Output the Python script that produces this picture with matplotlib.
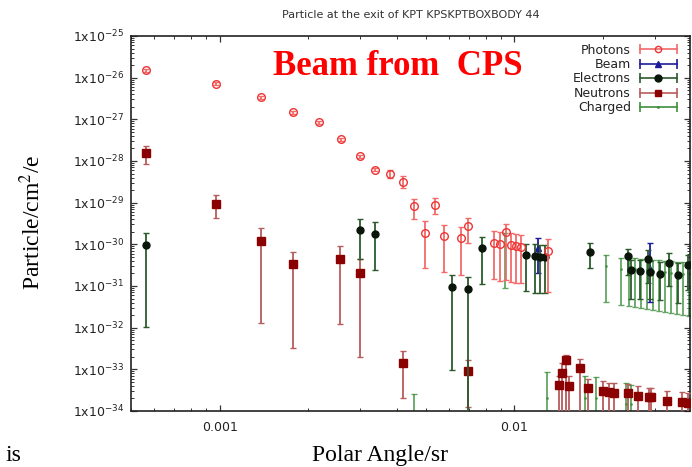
import numpy as np
import matplotlib
matplotlib.use("Agg")
import matplotlib.pyplot as plt
from matplotlib.lines import Line2D
from matplotlib.legend_handler import HandlerLine2D
from matplotlib.ticker import FixedLocator, LogLocator, NullFormatter

# Photons
pho_x = [5.63e-4, 9.71e-4, 1.385e-3, 1.77e-3, 2.18e-3, 2.58e-3, 2.99e-3, 3.38e-3,
         3.78e-3, 4.18e-3, 4.57e-3, 4.98e-3, 5.39e-3, 5.78e-3, 6.57e-3, 6.99e-3,
         8.52e-3, 8.93e-3, 9.34e-3, 9.74e-3, 1.016e-2, 1.054e-2, 1.30e-2]
pho_y = [1.50e-26, 7.2e-27, 3.4e-27, 1.5e-27, 8.4e-28, 3.3e-28, 1.30e-28, 6.2e-29,
         4.9e-29, 3.1e-29, 8.1e-30, 1.9e-30, 8.65e-30, 1.56e-30, 1.40e-30, 2.75e-30,
         1.09e-30, 1.02e-30, 2.01e-30, 9.6e-31, 9.1e-31, 8.8e-31, 7.0e-31]
pho_lo = [1.40e-26, 6.7e-27, 3.15e-27, 1.38e-27, 7.7e-28, 3.0e-28, 1.18e-28, 5.6e-29,
          3.9e-29, 2.2e-29, 4.0e-30, 2.66e-31, 5.2e-30, 2.13e-31, 1.84e-31, 1.1e-30,
          1.45e-31, 1.32e-31, 1.4e-31, 1.25e-31, 1.18e-31, 1.18e-31, 7.3e-32]
pho_hi = [1.60e-26, 7.7e-27, 3.65e-27, 1.62e-27, 9.1e-28, 3.6e-28, 1.42e-28, 6.8e-29,
          6.1e-29, 4.25e-29, 1.24e-29, 3.7e-30, 1.32e-29, 2.96e-30, 2.6e-30, 4.3e-30,
          2.09e-30, 1.98e-30, 3.1e-30, 1.87e-30, 1.77e-30, 1.7e-30, 1.34e-30]

# Beam
beam_x = [1.20e-2, 2.885e-2]
beam_y = [8.0e-31, 2.5e-31]
beam_lo = [2.0e-31, 4.2e-32]
beam_hi = [1.4e-30, 1.08e-30]

# Electrons
ele_x = [5.63e-4, 2.99e-3, 3.38e-3, 6.17e-3, 6.99e-3, 7.76e-3, 1.099e-2, 1.172e-2,
         1.219e-2, 1.27e-2, 1.807e-2, 2.434e-2, 2.496e-2, 2.68e-2, 2.85e-2, 2.90e-2,
         3.13e-2, 3.34e-2, 3.61e-2, 3.90e-2]
ele_y = [9.5e-31, 2.17e-30, 1.77e-30, 9.6e-32, 8.3e-32, 8.0e-31, 5.5e-31, 5.2e-31,
         5.05e-31, 5.05e-31, 6.67e-31, 5.25e-31, 2.42e-31, 2.34e-31, 4.37e-31, 2.14e-31,
         1.95e-31, 3.6e-31, 1.84e-31, 3.2e-31]
ele_lo = [1.02e-32, 4.5e-31, 2.47e-31, 9.7e-34, 1e-36, 1.1e-31, 7.6e-32, 6.7e-32,
          6.7e-32, 6.7e-32, 2.75e-31, 1.84e-31, 5.0e-32, 5.0e-32, 1.2e-31, 5.0e-32,
          4.5e-32, 1.0e-31, 4.0e-32, 8.0e-32]
ele_hi = [1.9e-30, 4.06e-30, 3.38e-30, 1.87e-31, 1.67e-31, 1.53e-30, 1.02e-30, 1.02e-30,
          9.6e-31, 9.6e-31, 1.06e-30, 7.76e-31, 4.3e-31, 4.2e-31, 7.5e-31, 4.0e-31,
          3.7e-31, 6.2e-31, 3.5e-31, 5.5e-31]

# Neutrons
neu_x = [5.63e-4, 9.71e-4, 1.385e-3, 1.767e-3, 2.57e-3, 2.99e-3, 4.18e-3, 6.99e-3,
         1.415e-2, 1.452e-2, 1.495e-2, 1.534e-2, 1.668e-2, 1.785e-2, 2.0e-2, 2.098e-2,
         2.188e-2, 2.434e-2, 2.633e-2, 2.856e-2, 2.91e-2, 3.30e-2, 3.72e-2, 3.90e-2]
neu_y = [1.58e-28, 9.4e-30, 1.22e-30, 3.3e-31, 4.5e-31, 2.02e-31, 1.45e-33, 9.1e-34,
         4.2e-34, 8.3e-34, 1.68e-33, 4.06e-34, 1.1e-33, 3.5e-34, 3.08e-34, 2.86e-34,
         2.76e-34, 2.66e-34, 2.29e-34, 2.13e-34, 2.13e-34, 1.77e-34, 1.68e-34, 1.58e-34]
neu_lo = [8.6e-29, 4.2e-30, 1.3e-32, 3.3e-33, 1.23e-32, 1.98e-33, 2.0e-34, 1.27e-34,
          1e-36, 1e-36, 1e-36, 1e-36, 1e-36, 1e-36, 1e-36, 1e-36,
          1e-36, 1e-36, 1e-36, 1e-36, 1e-36, 1e-36, 1e-36, 1e-36]
neu_hi = [2.33e-28, 1.53e-29, 2.47e-30, 6.5e-31, 9.0e-31, 4.38e-31, 2.8e-33, 1.68e-33,
          7.0e-34, 1.4e-33, 2.2e-33, 6.8e-34, 1.8e-33, 5.8e-34, 5.2e-34, 4.8e-34,
          4.6e-34, 4.5e-34, 3.9e-34, 3.6e-34, 3.6e-34, 3.0e-34, 2.9e-34, 2.7e-34]

# Charged
chg_x = [4.58e-3, 9.27e-3, 1.295e-2, 1.734e-2, 1.9e-2, 2.4e-2, 2.5e-2,
         2.044e-2, 2.31e-2, 2.45e-2, 2.56e-2, 2.69e-2, 2.82e-2, 2.95e-2, 3.10e-2,
         3.24e-2, 3.40e-2, 3.56e-2, 3.73e-2, 3.92e-2]
chg_y = [5e-35, 9.8e-31, 2e-34, 2e-34, 2e-34, 1.5e-34, 1.5e-34,
         2.98e-31, 2.57e-31, 2.52e-31, 2.51e-31, 2.37e-31, 2.37e-31, 2.24e-31, 2.23e-31,
         2.11e-31, 2.10e-31, 1.99e-31, 1.99e-31, 1.98e-31]
chg_lo = [1e-36, 8.8e-32, 1e-36, 1e-36, 1e-36, 1e-36, 1e-36,
          4.07e-32, 3.5e-32, 3.3e-32, 3.14e-32, 2.97e-32, 2.81e-32, 2.66e-32, 2.51e-32,
          2.38e-32, 2.25e-32, 2.13e-32, 2.02e-32, 1.91e-32]
chg_hi = [2.57e-34, 1.87e-30, 8.8e-34, 6.9e-34, 6.7e-34, 4.7e-34, 4.2e-34,
          5.55e-31, 4.79e-31, 4.7e-31, 4.7e-31, 4.45e-31, 4.45e-31, 4.21e-31, 4.21e-31,
          3.98e-31, 3.98e-31, 3.77e-31, 3.77e-31, 3.77e-31]

y_ticks = [10.0 ** -k for k in range(34, 24, -1)]
y_labels = [r'1x10$^{-%d}$' % k for k in range(34, 24, -1)]
x_ticks = [1e-3, 1e-2]
x_labels = ['0.001', '0.01']

fig = plt.figure(figsize=(6.92, 4.67), dpi=100)
ax = fig.add_axes([131 / 692, 1 - 411 / 467, 559 / 692, 375 / 467])


def draw(x, y, lo, hi, fmt, ms, mfc, mec, ecol, z, alpha=1.0, lw=1.3):
    x = np.array(x)
    y = np.array(y)
    err = [y - np.array(lo), np.array(hi) - y]
    ax.errorbar(x, y, yerr=err, fmt=fmt, ms=ms, mfc=mfc, mec=mec, mew=1.0,
                ecolor=ecol, elinewidth=lw, capsize=2.5, capthick=lw,
                alpha=alpha, zorder=z)


pho_c, pho_e = '#ee3434', '#f26a6a'
beam_c = '#1c1c9a'
ele_c, ele_e = '#0b160b', '#2c5a2c'
neu_c, neu_e = '#8b0000', '#b85c5c'
chg_c = '#3d8f3d'

draw(chg_x, chg_y, chg_lo, chg_hi, '.', 2, chg_c, chg_c, chg_c, 2, alpha=0.8)
draw(neu_x, neu_y, neu_lo, neu_hi, 's', 5.5, neu_c, neu_c, neu_e, 3)
draw(beam_x, beam_y, beam_lo, beam_hi, '^', 4.5, beam_c, beam_c, beam_c, 4)
draw(ele_x, ele_y, ele_lo, ele_hi, 'o', 5, ele_c, ele_c, ele_e, 5)
draw(pho_x, pho_y, pho_lo, pho_hi, 'o', 5.5, 'none', pho_c, pho_e, 6)

ax.set_xscale('log')
ax.set_yscale('log')
ax.set_xlim(5e-4, 0.0395)
ax.set_ylim(1e-34, 1e-25)

ax.xaxis.set_major_locator(FixedLocator(x_ticks))
ax.set_xticklabels(x_labels)
ax.xaxis.set_minor_locator(LogLocator(base=10, subs=np.arange(2, 10), numticks=50))
ax.xaxis.set_minor_formatter(NullFormatter())
ax.yaxis.set_major_locator(FixedLocator(y_ticks))
ax.set_yticklabels(y_labels)
ax.yaxis.set_minor_locator(LogLocator(base=10, subs=np.arange(2, 10), numticks=50))
ax.yaxis.set_minor_formatter(NullFormatter())

ax.tick_params(which='both', direction='in', top=True, right=True, color='#333333',
               labelcolor='#222222', labelsize=9)
ax.tick_params(which='major', length=4, width=0.9)
ax.tick_params(which='minor', length=2, width=0.7)
ax.tick_params(axis='y', pad=5)
ax.tick_params(axis='x', pad=7)
for s in ax.spines.values():
    s.set_linewidth(1.2)
    s.set_color('#222222')

ax.set_title('Particle at the exit of KPT KPSKPTBOXBODY 44', fontsize=8,
             color='#333333', pad=13)

ax.text(0.2535, 0.896, 'Beam from  CPS', transform=ax.transAxes, ha='left',
        va='baseline', color='#ff0000', fontsize=25, fontweight='bold',
        family='Liberation Serif')

fig.text(32 / 692, 1 - 222 / 467, r'Particle/cm$^2$/e', rotation=90, ha='center',
         va='center', fontsize=17, family='Liberation Serif', math_fontfamily='stix')
fig.text(380 / 692, 1 - 455 / 467, 'Polar Angle/sr', ha='center', va='center',
         fontsize=17, family='Liberation Serif')
fig.text(6 / 692, 0.012, 'is', ha='left', va='baseline', fontsize=17,
         family='Liberation Serif')

# gnuplot style legend: |--o--|
names = ['Photons', 'Beam', 'Electrons', 'Neutrons', 'Charged']
leg_style = [(pho_e, 'o', 'none', pho_c, 4.5), (beam_c, '^', beam_c, beam_c, 4),
             (ele_e, 'o', ele_c, ele_c, 5), (neu_e, 's', neu_c, neu_c, 5),
             (chg_c, '.', chg_c, chg_c, 2)]
handles = []
hmap = {}
for ecol, mk, mfc, mec, ms in leg_style:
    bar = Line2D([], [], color=ecol, lw=1.2, marker='|', markersize=7,
                 markeredgewidth=1.2)
    pt = Line2D([], [], ls='none', marker=mk, mfc=mfc, mec=mec, ms=ms)
    hmap[bar] = HandlerLine2D(numpoints=2, marker_pad=0)
    hmap[pt] = HandlerLine2D(numpoints=1)
    handles.append((bar, pt))

leg = ax.legend(handles, names, handler_map=hmap, loc='upper right',
                bbox_to_anchor=(0.977, 0.98), frameon=False, markerfirst=False,
                fontsize=9, handlelength=3.0, handletextpad=0.7, labelspacing=0.12,
                borderpad=0, borderaxespad=0)
for t in leg.get_texts():
    t.set_color('#222222')

fig.savefig('out.png', dpi=100)
